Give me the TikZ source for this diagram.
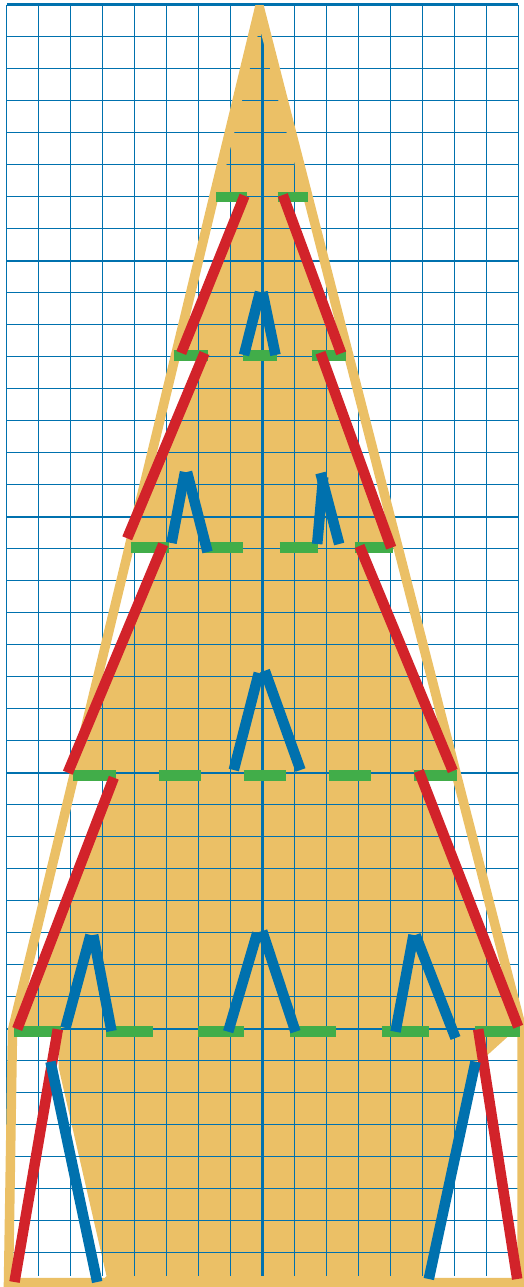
\documentclass[tikz,border=0pt]{standalone}
\usepackage{xcolor}
\usepackage{tikz}
\definecolor{gridblue}{HTML}{0071AE}
\definecolor{sheetfill}{HTML}{EBC066}
\definecolor{cutred}{HTML}{D2232A}
\definecolor{tabgreen}{HTML}{41AD49}

\begin{document}
\begin{tikzpicture}[
  x=1pt, y=-1pt,
  gridline/.style={draw=gridblue, line width=1.1pt},
  gridmajor/.style={draw=gridblue, line width=2.4pt},
  outline/.style={draw=sheetfill, line width=9.5pt, line join=miter},
  tab/.style={draw=tabgreen, line width=10.5pt},
  redcut/.style={draw=cutred, line width=10.5pt},
  bluefold/.style={draw=gridblue, line width=10.5pt}
]
\useasboundingbox (-0.5,0) rectangle (523.5,1287);

\fill[sheetfill] (259,10) -- (307.5,197) -- (283,197) -- (340.7,353) -- (345,355)
  -- (320,355) -- (390.7,547.7) -- (392,547) -- (359,547) -- (452.3,771)
  -- (456,775) -- (418,775) -- (517.7,1027) -- (519,1031) -- (508,1036)
  -- (487,1055) -- (476,1062) -- (430,1280) -- (430,1283) -- (100,1283)
  -- (106,1276) -- (58,1067) -- (58,1036) -- (57.3,1031) -- (16,1031)
  -- (16.7,1029) -- (113.3,777) -- (115,775) -- (73,775) -- (67.3,772.7)
  -- (162.7,547) -- (130,547) -- (126.7,538) -- (204,355) -- (173,355)
  -- (180.7,353) -- (244,197) -- (216,197) -- cycle;

\foreach \k in {0,...,16}
  \draw[gridline] ({6.4+31.95*\k},4.7) -- ({6.4+31.95*\k},1276);
\foreach \k in {0,...,39}
  \draw[gridline] (6.4,{4.7+32*\k}) -- (517.6,{4.7+32*\k});
\foreach \k in {0,8,16,24,32}
  \draw[gridmajor] (6.4,{4.7+32*\k}) -- (517.6,{4.7+32*\k});
\draw[gridmajor] (262,4.7) -- (262,1276);

\draw[outline] (258.5,10) -- (12,1030) -- (8,1282.5) -- (521.5,1282.5)
  -- (521.5,1030) -- (259.5,10) -- cycle;

\foreach \xa/\xb/\ypos in {215.5/246/197, 277/307/197,
    173/207/355.5, 242/276/355.5, 311/345/355.5,
    130/168/547.3, 203/242/547.3, 279/317/547.3, 354/392/547.3,
    72.7/115/775.3, 158/200/775.3, 243/285/775.3, 328/370/775.3, 413/456/775.3,
    13/60/1031.3, 105.7/152/1031.3, 197/243/1031.3, 289/335/1031.3,
    381/428/1031.3, 474/519/1031.3}
  \draw[tab] (\xa,\ypos) -- (\xb,\ypos);

\foreach \xa/\ya/\xb/\yb in {244/195.7/180.7/353, 282.3/195/340.7/353.3,
    204/353/126.7/538.3, 320/352.7/390.7/547.7,
    162.7/544.3/67.3/772.7, 359/546/452.3/771,
    113.3/777.7/16.7/1029, 418.3/771/517.7/1026.7,
    57.3/1029.3/14/1282, 477.7/1029.3/516.7/1279}
  \draw[redcut] (\xa,\ya) -- (\xb,\yb);

\foreach \xa/\ya/\xb/\yb in {243.5/355/259.5/292, 262/292/275/355,
    171/543/184.5/472, 186.5/472/207/552,
    316.7/544/322.7/477, 320/473/338.7/544,
    233.3/770/258.3/673, 264.3/670.7/300/770,
    65/1028/90/935, 92.7/935/111/1031,
    227.7/1031.7/256.7/933, 261.7/931/295/1031.7,
    395/1031.7/413/935, 415/935/455/1038,
    50/1061.7/96.7/1282, 475/1061.7/428.3/1279}
  \draw[bluefold] (\xa,\ya) -- (\xb,\yb);
\end{tikzpicture}
\end{document}
